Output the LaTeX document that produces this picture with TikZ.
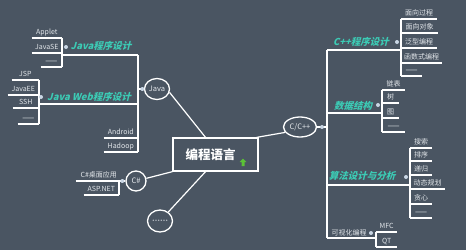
\documentclass[tikz,border=0pt]{standalone}
\usepackage{fontspec}
\setmainfont{Noto Sans CJK SC}
\newfontfamily\topicfont{Noto Sans CJK SC}[FakeSlant=0.25]
\usetikzlibrary{shapes.geometric}

\definecolor{slate}{HTML}{4A5562}
\definecolor{leafgray}{HTML}{E2E6EA}
\definecolor{topicteal}{HTML}{3CCBB5}
\definecolor{knobblue}{HTML}{C9D6E4}
\definecolor{icongreen}{HTML}{5BC236}

\begin{document}
\begin{tikzpicture}[x=1pt,y=-1pt,
  wire/.style={white,line width=1.2pt},
  twig/.style={inner xsep=0pt,inner ysep=2.5pt,text height=5pt,text depth=1pt,
    text=leafgray,font=\fontsize{7}{7}\selectfont},
  twigl/.style={twig,anchor=south east,minimum width=#1},
  twigr/.style={twig,anchor=south west,minimum width=#1},
  faint/.style={text=leafgray!70!slate,font=\bfseries\fontsize{7}{7}\selectfont},
  topic/.style={text=topicteal,font=\topicfont\bfseries\fontsize{9.5}{10}\selectfont},
  lang/.style={ellipse,draw=white,line width=1.3pt,inner sep=0pt,text=leafgray,
    font=\fontsize{7.5}{8}\selectfont},
  knob/.style={circle,fill=knobblue,inner sep=0pt,minimum size=4pt},
  root/.style={draw=white,line width=1.3pt,minimum width=85pt,minimum height=33pt,
    text=white,font=\bfseries\fontsize{12.5}{13}\selectfont}]

\useasboundingbox (0,0) rectangle (466,250);
\fill[slate] (0,0) rectangle (466,250);

% centre and the four languages
\node[root] (root) at (215.5,154.5) {编程语言\hspace*{10pt}};
\node[lang,minimum width=25pt,minimum height=21pt] (java) at (157,89) {Java};
\node[lang,minimum width=33pt,minimum height=20pt] (cpp) at (300,127) {C/C++};
\node[lang,minimum width=20pt,minimum height=20pt] (csharp) at (136,181) {C\#};
\node[lang,faint,minimum width=25pt,minimum height=22pt] (etc) at (160,221) {……};

\coordinate (flag) at ([xshift=27.5pt]root.center);
\fill[icongreen] ([yshift=-4pt]flag) -- ++(3.5,3.5) -- ++(-2,0) -- ++(0,4)
  -- ++(-3,0) -- ++(0,-4) -- ++(-2,0) -- cycle;

\draw[wire] (java.-15) -- ([xshift=-10pt]root.north);
\draw[wire] ([xshift=-2pt]root.north east) -- (cpp.200);
\draw[wire] (csharp) -- (root.south west);
\draw[wire] (etc) -- ([xshift=-10pt]root.south);

% Java
\coordinate (jtop) at (138,55);
\coordinate (jbot) at (138,152);
\node[twigl=30pt] (applet) at (62,38) {Applet};
\node[twigl=30pt] (javase) at (62,53) {JavaSE};
\node[twigl=21pt,faint] (sedots) at (62,67) {——};
\node[topic] (jprog) at (101,46) {Java程序设计};
\node[twigl=27pt] (jsp) at (39,80) {JSP};
\node[twigl=31pt] (javaee) at (39,95) {JavaEE};
\node[twigl=26pt] (ssh) at (39,108) {SSH};
\node[twigl=21pt,faint] (eedots) at (39,124) {——};
\node[topic] (jweb) at (89,97) {Java Web程序设计};
\node[twigl=34pt] (android) at (138,138) {Android};
\node[twigl=34pt] (hadoop) at (138,152) {Hadoop};

\draw[wire] (jtop) -- (jbot);
\draw[wire] (java.west) -- (java.west -| jtop);
\draw[wire] (applet.south east) -- (sedots.south east);
\draw[wire] (jsp.south east) -- (eedots.south east);
\draw[wire] (62,55) -- (jtop);
\draw[wire] (39,104) -- (39,104 -| jtop);

% C#
\node[twigl=46pt] (cdesk) at (122,181) {C\#桌面应用};
\node[twigl=35pt] (aspnet) at (119,195) {ASP.NET};
\draw[wire] (cdesk.south east) -- (csharp.west);
\draw[wire] (119,181) -- (aspnet.south east);

% C/C++
\coordinate (ctop) at (327,50);
\coordinate (cbot) at (327,238);
\node[twigr=36pt] (proc) at (401,19) {面向过程};
\node[twigr=37pt] (oop) at (401,33) {面向对象};
\node[twigr=36pt] (generic) at (401,48) {泛型编程};
\node[twigr=41pt] (func) at (401,63) {函数式编程};
\node[twigr=21pt,faint] (cppdots) at (401,76) {——};
\node[topic] (cppprog) at (361,42) {C++程序设计};
\node[twigr=23pt] (list) at (382,90) {链表};
\node[twigr=17pt] (tree) at (382,103) {树};
\node[twigr=17pt] (graph) at (382,118) {图};
\node[twigr=23pt,faint] (dsdots) at (382,132) {——};
\node[topic] (ds) at (353,106) {数据结构};
\node[twigr=22pt] (search) at (410,148) {搜索};
\node[twigr=22pt] (sort) at (410,161) {排序};
\node[twigr=22pt] (recur) at (410,175) {递归};
\node[twigr=35pt] (dp) at (410,189) {动态规划};
\node[twigr=22pt] (greedy) at (410,204) {贪心};
\node[twigr=22pt,faint] (algdots) at (410,218) {——};
\node[topic] (algo) at (362,176) {算法设计与分析};
\node[twigr=21pt] (mfc) at (376,232) {MFC};
\node[twigr=21pt] (qt) at (376,247) {QT};
\node[twig] (gui) at (349,233) {可视化编程};

\draw[wire] (ctop) -- (cbot);
\draw[wire] (cpp.east) -- (cpp.east -| ctop);
\draw[wire] (ctop) -- (ctop -| proc.south west);
\draw[wire] (proc.south west) -- (cppdots.south west);
\draw[wire] (327,113) -- (327,113 -| list.south west);
\draw[wire] (list.south west) -- (dsdots.south west);
\draw[wire] (327,185) -- (327,185 -| search.south west);
\draw[wire] (search.south west) -- (algdots.south west);
\draw[wire] (cbot) -- (cbot -| mfc.south west);
\draw[wire] (mfc.south west) -- (qt.south west);

% underlines
\foreach \n in {applet,javase,sedots,jsp,javaee,ssh,eedots,android,hadoop,cdesk,aspnet,
  proc,oop,generic,func,cppdots,list,tree,graph,dsdots,
  search,sort,recur,dp,greedy,algdots,mfc,qt}
  \draw[wire] (\n.south west) -- (\n.south east);

% knobs
\node[knob] (jknob) at ([xshift=-1.5pt]java.west) {};
\node[knob] (csknob) at ([xshift=-3pt]csharp.west) {};
\node[knob] (cknob) at (322,127) {};
\node[knob] (jprogknob) at (66,47) {};
\node[knob] (jwebknob) at (41,97) {};
\node[knob] (cppknob) at (397,42) {};
\node[knob] (dsknob) at (378,105) {};
\node[knob] (algoknob) at (406,177) {};
\node[knob] (guiknob) at (371,233) {};
\end{tikzpicture}
\end{document}
